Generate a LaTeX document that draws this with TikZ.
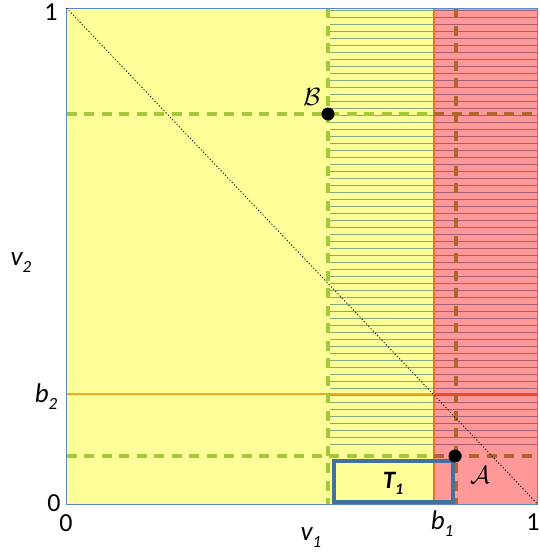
\documentclass[tikz,border=0pt]{standalone}
\usepackage{fontspec}
\setmainfont{Carlito}
\begin{document}
\begin{tikzpicture}[x=1pt,y=-1pt]
\definecolor{yel}{HTML}{FFFF99}
\definecolor{pnk}{HTML}{FF9999}
\definecolor{grn}{HTML}{A2CA36}
\definecolor{brn}{HTML}{B0642E}
\definecolor{org}{HTML}{F7A823}
\definecolor{orr}{HTML}{F07030}
\definecolor{redd}{HTML}{F04A28}
\definecolor{frm}{HTML}{5B87C5}
\definecolor{hatchg}{HTML}{86AA7A}
\definecolor{hatchr}{HTML}{A65E74}
\definecolor{boxb}{HTML}{41719C}
\tikzset{
  dsh/.style={line width=3.2pt, dash pattern=on 10pt off 7.5pt},
  solidline/.style={line width=2.8pt},
  lbl/.style={inner sep=0pt, font=\fontsize{26}{26}\selectfont},
  ilbl/.style={inner sep=0pt, font=\fontsize{27}{27}\selectfont\itshape},
  dotnode/.style={circle, fill=black, inner sep=0pt, minimum size=13pt}
}
\useasboundingbox (0,0) rectangle (540,555);
% regions
\fill[yel] (66.5,8) rectangle (434,504);
\fill[pnk] (434,8) rectangle (537.5,504);
% hatching
\foreach \k in {0,...,62}{
  \pgfmathsetmacro\yy{10.7+7*\k}
  \draw[hatchg, line width=1pt] (330,\yy) -- (434,\yy);
  \draw[hatchr, line width=1pt] (434,\yy) -- (537.5,\yy);
}
% b2 and b1
\draw[org, solidline] (66.5,394) -- (434,394);
\draw[redd, solidline] (434,394) -- (537.5,394);
\draw[orr, solidline] (434,8) -- (434,504);
% dashed lines
\draw[grn, dsh] (66.5,114) -- (434,114);
\draw[brn, dsh] (434,114) -- (537.5,114);
\draw[grn, dsh] (66.5,456) -- (434,456);
\draw[brn, dsh] (434,456) -- (537.5,456);
\draw[grn, dsh] (328,8) -- (328,504);
\draw[brn, dsh] (456,8) -- (456,504);
% frame
\draw[frm, line width=1pt] (66.5,8) rectangle (537.5,504);
% diagonal
\draw[black, line width=0.8pt, dash pattern=on 1.2pt off 2pt] (66.5,8) -- (537.5,504);
% T1 box
\draw[boxb, line width=3.2pt] (334,461) rectangle (453,502);
\node[inner sep=0pt, font=\fontsize{25}{25}\selectfont\bfseries\itshape] (t1) at (393,483) {T\raisebox{-6pt}{\fontsize{16}{16}\selectfont 1}};
% points
\node[dotnode] (B) at (328,114) {};
\node[dotnode] (A) at (455,456) {};
\node[inner sep=0pt, font=\fontsize{26}{26}\selectfont] (Bl) at (312,97) {$\mathcal{B}$};
\node[inner sep=0pt, font=\fontsize{26}{26}\selectfont] (Al) at (480,475) {$\mathcal{A}$};
% axis labels
\node[lbl] (one2) at (51,12) {1};
\node[lbl] (zero2) at (54,503) {0};
\node[lbl] (zero1) at (66,523) {0};
\node[lbl] (one1) at (533,522) {1};
\node[ilbl] (b1) at (442,524) {b\raisebox{-7pt}{\fontsize{17}{17}\selectfont 1}};
\node[ilbl] (v1) at (311,538) {v\raisebox{-7pt}{\fontsize{17}{17}\selectfont 1}};
\node[ilbl] (v2) at (21,263) {v\raisebox{-7pt}{\fontsize{17}{17}\selectfont 2}};
\node[ilbl] (b2) at (46,397) {b\raisebox{-7pt}{\fontsize{17}{17}\selectfont 2}};
\end{tikzpicture}
\end{document}
